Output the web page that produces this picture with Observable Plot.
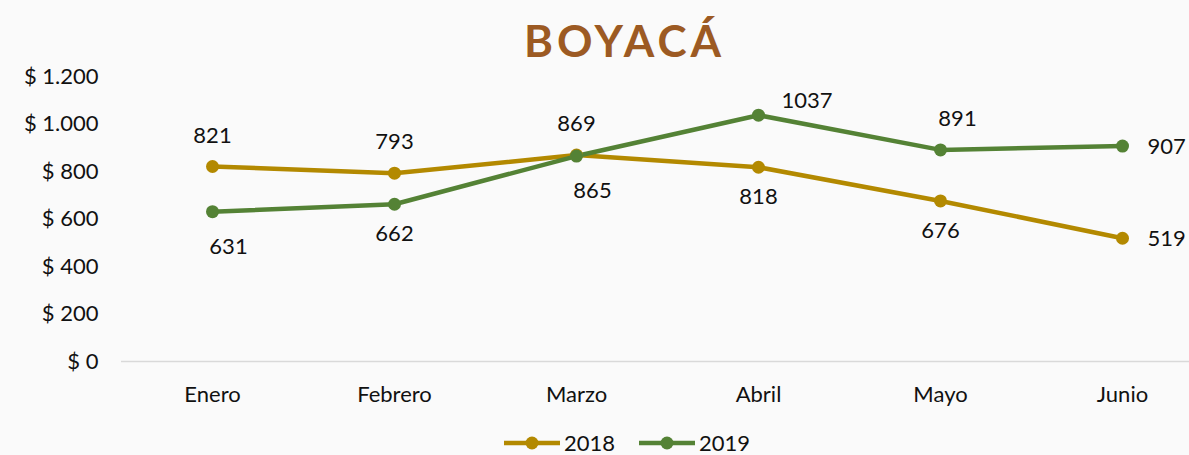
<!DOCTYPE html>
<html>
<head>
<meta charset="utf-8">
<script src="https://cdn.jsdelivr.net/npm/d3@7"></script>
<script src="https://cdn.jsdelivr.net/npm/@observablehq/plot@0.6"></script>
<style>
  html, body { margin: 0; padding: 0; }
  body { width: 1189px; height: 455px; overflow: hidden; background: #fafafa; font-family: Lato, "Open Sans", sans-serif; }
  #wrap { position: relative; width: 1189px; height: 455px; }
  #title { position: absolute; top: 14px; left: 0; width: 1249px; text-align: center; font: 700 44px Lato, sans-serif; letter-spacing: 4px; color: #9c5a23; }
  #chart { position: absolute; top: 0; left: 0; }
  #legend { position: absolute; left: 504px; top: 431px; display: flex; gap: 24px; font: 22px/24px Lato, sans-serif; color: #111; }
  .item { display: flex; align-items: center; gap: 4px; }
</style>
</head>
<body>
<div id="wrap">
  <div id="chart"></div>
  <div id="title">BOYACÁ</div>
  <div id="legend"></div>
</div>
<script>
// ---- data ----
const months = ["Enero", "Febrero", "Marzo", "Abril", "Mayo", "Junio"];
const values2018 = [821, 793, 869, 818, 676, 519];
const values2019 = [631, 662, 865, 1037, 891, 907];
const yTicks = [0, 200, 400, 600, 800, 1000, 1200];
const seriesNames = ["2018", "2019"];
const seriesColors = ["#b38900", "#548235"];

// label placement keywords (which side of the point the label sits)
const place2018 = ["above", "above", "above", "below", "below", "right"];
const place2019 = ["belowRight", "below", "belowRight", "upperRight", "aboveRight", "right"];

const placements = {
  above:      {dx: 0,  dy: -31, textAnchor: "middle"},
  aboveRight: {dx: 17, dy: -31, textAnchor: "middle"},
  below:      {dx: 0,  dy: 30,  textAnchor: "middle"},
  belowRight: {dx: 16, dy: 35,  textAnchor: "middle"},
  right:      {dx: 25, dy: 1,   textAnchor: "start"},
  upperRight: {dx: 23, dy: -14, textAnchor: "start"}
};

const rows = [];
months.forEach((m, i) => {
  rows.push({month: m, value: values2018[i], series: seriesNames[0], place: place2018[i]});
  rows.push({month: m, value: values2019[i], series: seriesNames[1], place: place2019[i]});
});

const locale = d3.formatLocale({decimal: ",", thousands: ".", grouping: [3], currency: ["$ ", ""]});
const fmt = locale.format("$,.0f");

const labelMarks = Object.entries(placements).map(([key, p]) =>
  Plot.text(rows.filter(d => d.place === key), {
    x: "month", y: "value", text: d => String(d.value),
    dx: p.dx, dy: p.dy, textAnchor: p.textAnchor,
    fontSize: 22, fill: "#111"
  })
);

const chart = Plot.plot({
  width: 1189,
  height: 455,
  marginLeft: 121,
  marginRight: 0,
  marginTop: 76,
  marginBottom: 94,
  style: {background: "transparent", fontFamily: "Lato, 'Open Sans', sans-serif", fontSize: "22px", color: "#111"},
  x: {type: "point", domain: months, range: [211, 1123], padding: 0, label: null},
  y: {domain: [0, 1200], label: null},
  color: {domain: seriesNames, range: seriesColors},
  marks: [
    Plot.ruleY([0], {stroke: "#d9d9d9", strokeWidth: 1.5}),
    Plot.axisY({ticks: yTicks, tickSize: 0, tickPadding: 23, tickFormat: fmt, label: null, fontSize: 22}),
    Plot.axisX({tickSize: 0, tickPadding: 25, label: null, fontSize: 22}),
    Plot.line(rows, {x: "month", y: "value", z: "series", stroke: "series", strokeWidth: 4.5}),
    Plot.dot(rows, {x: "month", y: "value", fill: "series", r: 6.5}),
    ...labelMarks
  ]
});
document.getElementById("chart").appendChild(chart);

// legend
const legend = document.getElementById("legend");
seriesNames.forEach((name, i) => {
  const item = document.createElement("div");
  item.className = "item";
  item.innerHTML = `<svg width="56" height="16"><line x1="0" y1="8" x2="56" y2="8" stroke="${seriesColors[i]}" stroke-width="4.5"/><circle cx="28" cy="8" r="6.5" fill="${seriesColors[i]}"/></svg><span>${name}</span>`;
  legend.appendChild(item);
});
</script>
</body>
</html>
